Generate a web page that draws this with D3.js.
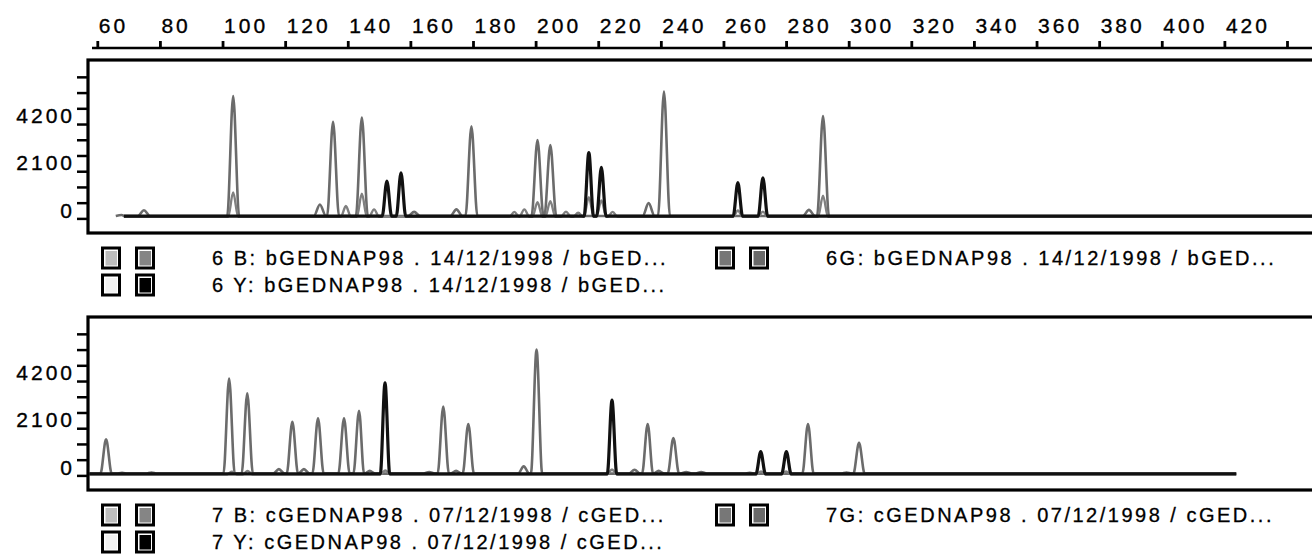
<!DOCTYPE html>
<html>
<head>
<meta charset="utf-8">
<script src="https://d3js.org/d3.v7.min.js"></script>
<style>
  body { margin: 0; background: #fff; }
  svg { display: block; font-family: 'Liberation Sans', Arial, sans-serif; }
</style>
</head>
<body>
<script>
// fragment size ruler (bp)
const sizeTicks = [60, 80, 100, 120, 140, 160, 180, 200, 220, 240, 260, 280, 300, 320, 340, 360, 380, 400, 420, 440];
const sizeLabels = [60, 80, 100, 120, 140, 160, 180, 200, 220, 240, 260, 280, 300, 320, 340, 360, 380, 400, 420];
// signal ticks (rfu)
const countTicks = [0, 700, 1400, 2100, 2800, 3500, 4200, 4900, 5600, 6300];
const countLabels = [0, 2100, 4200];

// peaks as [size bp, height rfu]
const sample6Blue = [[67.8, 150], [74.9, 360], [78.7, 110], [103.4, 5440], [131.1, 620], [135.3, 4300],
  [144.5, 4490], [161.2, 290], [174.7, 400], [179.5, 4100], [200.6, 3490], [204.7, 3260],
  [236.1, 680], [241.0, 5650], [287.3, 380], [291.8, 4560]];
const sample6Green = [[103.4, 1160], [139.4, 550], [144.5, 1100], [148.4, 400], [193.2, 290], [196.4, 400],
  [200.6, 720], [204.7, 760], [209.7, 300], [213.6, 250], [217.0, 940], [221.0, 800], [224.6, 290],
  [264.6, 350], [272.6, 300], [291.8, 1010]];
const sample6Yellow = [[152.5, 1665], [157.0, 2030], [217.0, 2930], [221.0, 2270], [264.6, 1590], [272.6, 1810]];

const sample7Blue = [[62.8, 1610], [67.9, 120], [77.3, 130], [102.1, 4315], [107.9, 3650], [118.0, 280],
  [122.3, 2390], [126.0, 280], [130.5, 2540], [138.8, 2540], [143.6, 2880], [147.0, 200], [166.0, 150],
  [170.5, 3060], [174.6, 200], [178.5, 2290], [196.2, 400], [200.3, 5600], [231.6, 250], [235.8, 2290],
  [239.3, 200], [244.0, 1660], [248.1, 150], [252.9, 150], [268.4, 120], [287.0, 2290], [299.3, 130],
  [303.3, 1450]];
const sample7Green = [[103.0, 160], [108.0, 200], [152.0, 220], [224.4, 260], [272.0, 180], [280.0, 180]];
const sample7Yellow = [[151.9, 4120], [224.4, 3350], [271.9, 1060], [280.1, 1060]];

// where each run's trace starts and stops (bp)
const traceSpan6 = [68.5, 450];
const traceSpan7 = [57.5, 423.8];

const legend6 = ['6 B: bGEDNAP98 . 14/12/1998 / bGED...', '6G: bGEDNAP98 . 14/12/1998 / bGED...', '6 Y: bGEDNAP98 . 14/12/1998 / bGED...'];
const legend7 = ['7 B: cGEDNAP98 . 07/12/1998 / cGED...', '7G: cGEDNAP98 . 07/12/1998 / cGED...', '7 Y: cGEDNAP98 . 07/12/1998 / cGED...'];
const swatchFills = [['#bdbdbd', '#858585'], ['#777777', '#6a6a6a'], ['#f2f2f2', '#000000']];

const width = 1312;
const height = 558;
const panelLeft = 88;
const panelH = 173;

const svg = d3.select('body').append('svg')
  .attr('width', width)
  .attr('height', height);

const x = d3.scaleLinear().domain([60, 440]).range([97.3, 1287]);
const y = d3.scaleLinear().domain([-650, 7050]).range([panelH, 0]);

const labelStyle = s => s
  .attr('fill', '#000')
  .attr('stroke', '#000')
  .attr('stroke-width', 0.35)
  .style('font-size', '21px')
  .style('letter-spacing', '3px')
  .style('font-family', 'Liberation Sans, Arial, sans-serif');

// top ruler
const ruler = svg.append('g').attr('transform', 'translate(0,48)');
ruler.append('line')
  .attr('x1', 92).attr('x2', width)
  .attr('stroke', '#000').attr('stroke-width', 2.5);
ruler.call(d3.axisTop(x)
    .tickValues(sizeTicks)
    .tickSize(7)
    .tickSizeOuter(0)
    .tickFormat(d => sizeLabels.includes(d) ? d : ''))
  .call(g => g.select('.domain').remove())
  .call(g => g.selectAll('.tick line').attr('stroke-width', 2.8))
  .call(g => g.selectAll('.tick text')
    .attr('x', 1)
    .attr('y', -15)
    .attr('text-anchor', 'start')
    .call(labelStyle));

const line = d3.line()
  .x(d => x(d[0]))
  .y(d => y(d[1]))
  .curve(d3.curveMonotoneX);

function tracePoints(peaks, span, base, hw) {
  const pts = [[span[0], base], [span[1], base]];
  peaks.forEach(p => {
    pts.push([p[0] - hw, base], [p[0], p[1]], [p[0] + hw, base]);
  });
  return pts.sort((a, b) => a[0] - b[0]);
}

function drawPanel(top, idx, series, span, legend) {
  const g = svg.append('g').attr('transform', `translate(0,${top})`);

  g.append('clipPath').attr('id', 'clip' + idx)
    .append('rect')
    .attr('x', panelLeft).attr('y', 0)
    .attr('width', width - panelLeft).attr('height', panelH);

  const traces = g.append('g').attr('clip-path', `url(#clip${idx})`);
  series.forEach(s => {
    traces.append('path')
      .datum(tracePoints(s.peaks, span, s.base, s.hw))
      .attr('d', line)
      .attr('fill', 'none')
      .attr('stroke', s.color)
      .attr('stroke-width', s.sw)
      .attr('stroke-linejoin', 'round');
  });

  // frame (right side runs off the page)
  g.append('rect')
    .attr('x', panelLeft).attr('y', 0)
    .attr('width', width + 10 - panelLeft).attr('height', panelH)
    .attr('fill', 'none')
    .attr('stroke', '#000')
    .attr('stroke-width', 3.2);

  // signal axis, labels sit on top of their tick
  g.append('g')
    .attr('transform', `translate(${panelLeft},0)`)
    .call(d3.axisLeft(y)
      .tickValues(countTicks)
      .tickSize(11)
      .tickFormat(d => countLabels.includes(d) ? d : ''))
    .call(a => a.select('.domain').remove())
    .call(a => a.selectAll('.tick line').attr('stroke-width', 2.5))
    .call(a => a.selectAll('.tick text')
      .attr('x', -13)
      .attr('dy', '-0.06em')
      .call(labelStyle));

  // legend rows under the panel
  const rows = [[0, 0], [614, 0], [0, 1]];
  legend.forEach((label, i) => {
    const lx = 101 + rows[i][0];
    const ly = panelH + 25 + rows[i][1] * 27;
    const item = g.append('g').attr('transform', `translate(${lx},${ly})`);
    swatchFills[i].forEach((fill, j) => {
      item.append('rect')
        .attr('x', j * 34 + 1.5).attr('y', -10)
        .attr('width', 17).attr('height', 20)
        .attr('fill', '#fff')
        .attr('stroke', '#000')
        .attr('stroke-width', 3);
      item.append('rect')
        .attr('x', j * 34 + 4.5).attr('y', -7)
        .attr('width', 11.5).attr('height', 14.5)
        .attr('fill', fill);
    });
    item.append('text')
      .attr('x', 111)
      .attr('y', 7)
      .attr('fill', '#000')
      .attr('stroke', '#000')
      .attr('stroke-width', 0.3)
      .style('font-size', '20px')
      .style('letter-spacing', '2.5px')
      .text(label);
  });
}

drawPanel(60, 6, [
  { peaks: sample6Blue, base: 110, hw: 1.9, color: '#6b6b6b', sw: 2.6 },
  { peaks: sample6Green, base: 70, hw: 1.6, color: '#808080', sw: 2.4 },
  { peaks: sample6Yellow, base: 100, hw: 1.5, color: '#111', sw: 3.2 }
], traceSpan6, legend6);

drawPanel(317, 7, [
  { peaks: sample7Blue, base: 80, hw: 1.8, color: '#6b6b6b', sw: 2.6 },
  { peaks: sample7Green, base: 50, hw: 1.5, color: '#808080', sw: 2.4 },
  { peaks: sample7Yellow, base: 70, hw: 1.5, color: '#111', sw: 3.2 }
], traceSpan7, legend7);
</script>
</body>
</html>
